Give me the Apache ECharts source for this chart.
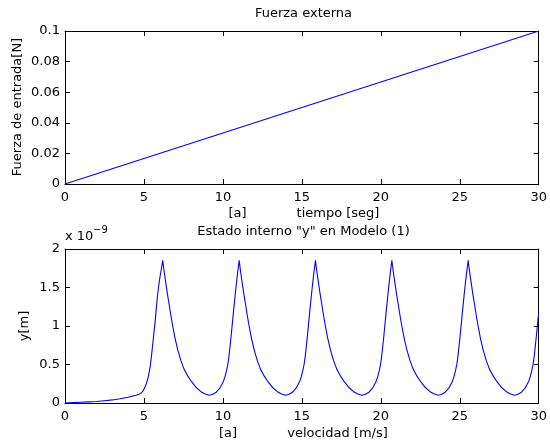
<!DOCTYPE html>
<html><head><meta charset="utf-8">
<script src="https://cdn.jsdelivr.net/npm/echarts@6/dist/echarts.min.js"></script>
<style>html,body{margin:0;padding:0;background:#fff}#c{width:550px;height:444px}</style>
</head><body><div id="c"></div>
<script>
// Top plot: external force vs time
const tiempo = [0, 30];
const fuerza = [0, 0.1];
// Bottom plot: internal state y (units of 1e-9 m) vs velocity
const velocidad = [
  0, 0.5, 1, 1.5, 2, 2.5, 3, 3.5, 4, 4.3, 4.5, 4.7, 4.83, 4.95, 5.05, 5.15, 5.25, 5.33, 5.4, 5.47, 5.55, 5.62, 5.7, 5.77, 5.85, 5.92, 6.0, 6.1, 6.19,
  6.24, 6.29, 6.34, 6.39, 6.49, 6.61, 6.71, 6.82, 6.97, 7.14, 7.34, 7.54, 7.79, 8.04, 8.29, 8.59, 8.84, 9.13,
  9.33, 9.58, 9.83, 10.03, 10.13, 10.23, 10.31, 10.38, 10.46, 10.53, 10.61, 10.68, 10.76, 10.83, 10.93, 11.03,
  11.08, 11.13, 11.18, 11.23, 11.33, 11.45, 11.55, 11.66, 11.81, 11.98, 12.18, 12.38, 12.63, 12.88, 13.13, 13.43, 13.68, 13.97,
  14.16, 14.41, 14.66, 14.86, 14.96, 15.06, 15.14, 15.21, 15.29, 15.36, 15.44, 15.51, 15.59, 15.66, 15.76, 15.86,
  15.91, 15.96, 16.01, 16.06, 16.16, 16.28, 16.38, 16.49, 16.64, 16.81, 17.01, 17.21, 17.46, 17.71, 17.96, 18.26, 18.51, 18.80,
  19.00, 19.25, 19.50, 19.70, 19.80, 19.90, 19.98, 20.05, 20.13, 20.20, 20.28, 20.35, 20.43, 20.50, 20.60, 20.70,
  20.75, 20.80, 20.85, 20.90, 21.00, 21.12, 21.22, 21.33, 21.48, 21.65, 21.85, 22.05, 22.30, 22.55, 22.80, 23.10, 23.35, 23.64,
  23.83, 24.08, 24.33, 24.53, 24.63, 24.73, 24.81, 24.88, 24.96, 25.03, 25.11, 25.18, 25.26, 25.33, 25.43, 25.53,
  25.58, 25.63, 25.68, 25.73, 25.83, 25.95, 26.05, 26.16, 26.31, 26.48, 26.68, 26.88, 27.13, 27.38, 27.63, 27.93, 28.18, 28.47,
  28.66, 28.91, 29.16, 29.36, 29.46, 29.56, 29.64, 29.71, 29.79, 29.86, 29.94, 30.00
];
const estadoY = [
  0, 0.005, 0.01, 0.015, 0.02, 0.03, 0.04, 0.055, 0.075, 0.09, 0.10, 0.115, 0.13, 0.16, 0.2, 0.25, 0.32, 0.40, 0.48, 0.60, 0.75, 0.89, 1.04, 1.20, 1.38, 1.50, 1.62, 1.74, 1.85,
  1.77, 1.69, 1.62, 1.55, 1.41, 1.26, 1.13, 1.00, 0.84, 0.69, 0.55, 0.44, 0.345, 0.27, 0.205, 0.15, 0.12, 0.10,
  0.11, 0.14, 0.20, 0.28, 0.34, 0.42, 0.50, 0.60, 0.75, 0.89, 1.06, 1.21, 1.37, 1.51, 1.69, 1.85,
  1.77, 1.69, 1.62, 1.55, 1.41, 1.26, 1.13, 1.00, 0.84, 0.69, 0.55, 0.44, 0.345, 0.27, 0.205, 0.15, 0.12, 0.10,
  0.11, 0.14, 0.20, 0.28, 0.34, 0.42, 0.50, 0.60, 0.75, 0.89, 1.06, 1.21, 1.37, 1.51, 1.69, 1.85,
  1.77, 1.69, 1.62, 1.55, 1.41, 1.26, 1.13, 1.00, 0.84, 0.69, 0.55, 0.44, 0.345, 0.27, 0.205, 0.15, 0.12, 0.10,
  0.11, 0.14, 0.20, 0.28, 0.34, 0.42, 0.50, 0.60, 0.75, 0.89, 1.06, 1.21, 1.37, 1.51, 1.69, 1.85,
  1.77, 1.69, 1.62, 1.55, 1.41, 1.26, 1.13, 1.00, 0.84, 0.69, 0.55, 0.44, 0.345, 0.27, 0.205, 0.15, 0.12, 0.10,
  0.11, 0.14, 0.20, 0.28, 0.34, 0.42, 0.50, 0.60, 0.75, 0.89, 1.06, 1.21, 1.37, 1.51, 1.69, 1.85,
  1.77, 1.69, 1.62, 1.55, 1.41, 1.26, 1.13, 1.00, 0.84, 0.69, 0.55, 0.44, 0.345, 0.27, 0.205, 0.15, 0.12, 0.10,
  0.11, 0.14, 0.20, 0.28, 0.34, 0.42, 0.50, 0.60, 0.75, 0.89, 1.06, 1.17
];
const titles = ['Fuerza externa', 'Estado interno "y" en Modelo (1)'];
const xNamesTop = ['[a]', 'tiempo [seg]'];
const xNamesBottom = ['[a]', 'velocidad [m/s]'];
const yNames = ['Fuerza de entrada[N]', 'y[m]'];

const FONT = 'DejaVu Sans';
const FS = 13;
const chart = echarts.init(document.getElementById('c'), null, {renderer: 'canvas'});

function xAx(grid, pos, labels) {
  return {
    type: 'value', gridIndex: grid, position: pos, min: 0, max: 30, interval: 5,
    axisLine: {show: true, onZero: false, lineStyle: {color: '#000', width: 1}},
    axisTick: {show: true, inside: true, length: 5, lineStyle: {color: '#000'}},
    axisLabel: {show: labels, color: '#000', fontFamily: FONT, fontSize: FS, margin: 7},
    splitLine: {show: false}
  };
}
function yAx(grid, pos, labels, max, interval) {
  return {
    type: 'value', gridIndex: grid, position: pos, min: 0, max: max, interval: interval,
    axisLine: {show: true, onZero: false, lineStyle: {color: '#000', width: 1}},
    axisTick: {show: true, inside: true, length: 5, lineStyle: {color: '#000'}},
    axisLabel: {show: labels, color: '#000', fontFamily: FONT, fontSize: FS, margin: 5},
    splitLine: {show: false}
  };
}
function txt(x, y, s, opts) {
  return Object.assign({
    type: 'text', x: x, y: y, silent: true,
    style: Object.assign({text: s, fill: '#000', font: FS + 'px "' + FONT + '"', align: 'center', verticalAlign: 'middle'}, (opts && opts.style) || {})
  }, (opts && opts.el) || {});
}

chart.setOption({
  animation: false,
  backgroundColor: '#fff',
  grid: [
    {left: 65, right: 8, top: 31, height: 153},
    {left: 65, right: 8, top: 249, height: 154}
  ],
  xAxis: [xAx(0, 'bottom', true), xAx(0, 'top', false), xAx(1, 'bottom', true), xAx(1, 'top', false)],
  yAxis: [yAx(0, 'left', true, 0.1, 0.02), yAx(0, 'right', false, 0.1, 0.02), yAx(1, 'left', true, 2, 0.5), yAx(1, 'right', false, 2, 0.5)],
  series: [
    {type: 'line', xAxisIndex: 0, yAxisIndex: 0, showSymbol: false, symbol: 'none',
     lineStyle: {color: '#0000ff', width: 1.1}, data: tiempo.map((t, i) => [t, fuerza[i]])},
    {type: 'line', xAxisIndex: 2, yAxisIndex: 2, showSymbol: false, symbol: 'none',
     lineStyle: {color: '#0000ff', width: 1.1, join: 'round'}, data: velocidad.map((v, i) => [v, estadoY[i]])}
  ],
  graphic: [
    txt(303.5, 14, titles[0]),
    txt(237.5, 214, xNamesTop[0]),
    txt(338, 214, xNamesTop[1]),
    txt(17.5, 107, yNames[0], {el: {rotation: Math.PI / 2}}),
    txt(65, 237, 'x 10', {style: {align: 'left'}}),
    txt(93, 230, '\u22129', {style: {align: 'left', font: '10px "' + FONT + '"'}}),
    txt(303.5, 232, titles[1]),
    txt(228, 434, xNamesBottom[0]),
    txt(337.5, 434, xNamesBottom[1]),
    txt(25, 326, yNames[1], {el: {rotation: Math.PI / 2}})
  ]
});
</script>
</body></html>
